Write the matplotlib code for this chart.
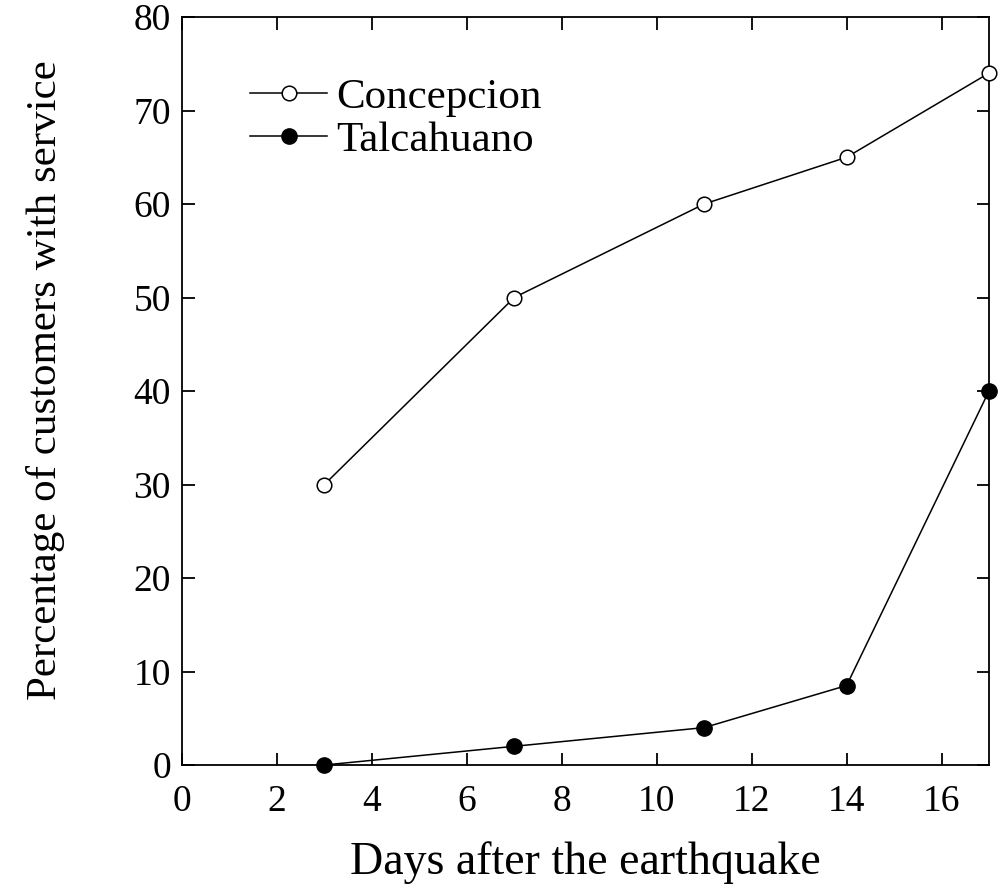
import matplotlib

matplotlib.use("Agg")
import matplotlib.pyplot as plt

days = [3, 7, 11, 14, 17]
concepcion = [30, 50, 60, 65, 74]
talcahuano = [0, 2, 4, 8.5, 40]
xticks = list(range(0, 17, 2))
yticks = list(range(0, 81, 10))

plt.rcParams["font.family"] = ["Liberation Serif", "DejaVu Serif"]
plt.rcParams["font.size"] = 27

fig = plt.figure(figsize=(10.02, 8.94), dpi=100)
ax = fig.add_axes([182 / 1002, 1 - 765 / 894, (989 - 182) / 1002, (765 - 17) / 894])

ax.plot(days, concepcion, color="black", lw=1.1, marker="o", ms=10.5,
        mfc="white", mec="black", mew=1.1, label="Concepcion", clip_on=False, zorder=3)
ax.plot(days, talcahuano, color="black", lw=1.1, marker="o", ms=11,
        mfc="black", mec="black", label="Talcahuano", clip_on=False, zorder=3)

ax.set_xlim(0, 17)
ax.set_ylim(0, 80)
ax.set_xticks(xticks)
ax.set_yticks(yticks)
ax.tick_params(direction="in", length=9, width=1.3, top=True, right=True)
ax.tick_params(axis="x", pad=14)
ax.tick_params(axis="y", pad=8)
for s in ax.spines.values():
    s.set_linewidth(1.3)

ax.set_xlabel("Days after the earthquake", fontsize=33, labelpad=16)
ax.set_ylabel("Percentage of customers with service", fontsize=31)
ax.yaxis.set_label_coords(-0.145, 0.515)

ax.legend(loc="upper left", bbox_to_anchor=(0.084, 0.918), frameon=False, fontsize=31,
          handlelength=1.8, handletextpad=0.2, labelspacing=0.07, borderaxespad=0,
          borderpad=0)

fig.savefig("out.png", dpi=100)
